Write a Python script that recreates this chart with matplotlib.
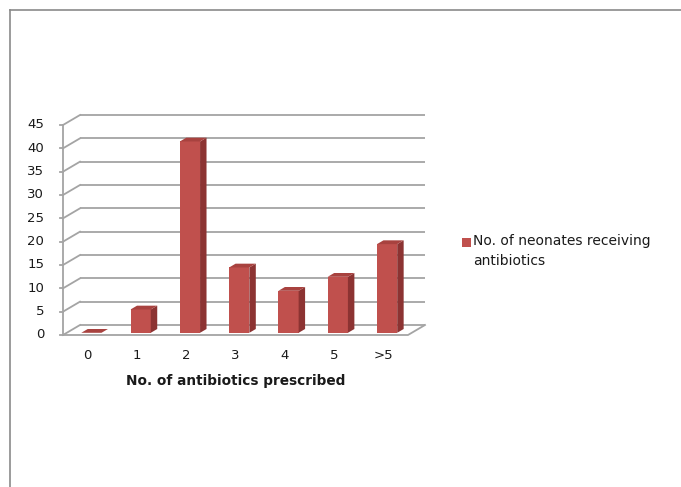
import matplotlib
matplotlib.use("Agg")
import matplotlib.pyplot as plt
from matplotlib.patches import Polygon, Rectangle
from matplotlib.lines import Line2D

# Data
categories = ["0", "1", "2", "3", "4", "5", ">5"]
neonates = [0, 5, 41, 14, 9, 12, 19]
y_ticks = [0, 5, 10, 15, 20, 25, 30, 35, 40, 45]
series_label = "No. of neonates receiving\nantibiotics"
x_title = "No. of antibiotics prescribed"

# Styling
FRONT = "#C0504D"
SIDE = "#8C3332"
TOP = "#A8423F"
GRID = "#A4A4A4"
TEXT = "#1A1A1A"

W, H = 681, 487
fig = plt.figure(figsize=(W / 100, H / 100), dpi=100)
fig.patch.set_facecolor("white")

# outer frame (top and left edges)
fig.add_artist(Line2D([10 / W, 1], [1 - 10 / H, 1 - 10 / H], transform=fig.transFigure,
                      color="#8A8A8A", lw=1.2))
fig.add_artist(Line2D([10 / W, 10 / W], [0, 1 - 10 / H], transform=fig.transFigure,
                      color="#8A8A8A", lw=1.2))

left, right = 63 / W, 408 / W
bottom, top = 1 - 335 / H, 1 - 125 / H
ax = fig.add_axes([left, bottom, right - left, top - bottom])
n = len(categories)
ax.set_xlim(-0.5, n - 0.5)
ax.set_ylim(0, 45)
ax.axis("off")

# depth of the pseudo-3D box in data units
px_per_cat = (408 - 63) / n
px_per_val = (335 - 125) / 45
DX = 17 / px_per_cat
DY = 10 / px_per_val

x0, x1 = -0.5, n - 0.5

# back wall gridlines and left wall diagonals
for t in y_ticks:
    ax.plot([x0 + DX, x1 + DX], [t + DY, t + DY], color=GRID, lw=1.3,
            clip_on=False, solid_capstyle="butt", zorder=1)
    ax.plot([x0, x0 + DX], [t, t + DY], color=GRID, lw=1.3, clip_on=False, zorder=1)
    ax.plot([x0 - 0.06, x0], [t, t], color=GRID, lw=1.3, clip_on=False, zorder=1)
    ax.text(x0 - 0.38, t, str(t), ha="right", va="center", fontsize=9.5,
            color=TEXT, clip_on=False)

# front axis line
ax.plot([x0, x0], [0, 45], color=GRID, lw=1.3, clip_on=False, zorder=1)
# floor outline
ax.plot([x0, x1, x1 + DX], [0, 0, DY], color=GRID, lw=1.3, clip_on=False, zorder=1)

# bars
w = 0.41
f, b = 0.22, 0.6
for i, v in enumerate(neonates):
    xl = i - w / 2
    xr = i + w / 2
    fx, fy = f * DX, f * DY
    bx, by = b * DX, b * DY
    if v > 0:
        ax.add_patch(Rectangle((xl + fx, fy), w, v, facecolor=FRONT,
                               edgecolor="none", zorder=3, clip_on=False))
        ax.add_patch(Polygon([(xr + fx, fy), (xr + bx, by), (xr + bx, v + by),
                              (xr + fx, v + fy)], closed=True, facecolor=SIDE,
                             edgecolor="none", zorder=3, clip_on=False))
    ax.add_patch(Polygon([(xl + fx, v + fy), (xr + fx, v + fy), (xr + bx, v + by),
                          (xl + bx, v + by)], closed=True, facecolor=TOP,
                         edgecolor="none", zorder=4, clip_on=False))

# category labels and axis title
for i, c in enumerate(categories):
    ax.text(i, -4.4, c, ha="center", va="center", fontsize=9.5, color=TEXT,
            clip_on=False)
ax.text((x0 + x1) / 2 + 0.0, -9.8, x_title, ha="center", va="center",
        fontsize=9.8, fontweight="bold", color=TEXT, clip_on=False)

# legend: swatch and two-line label
fig.add_artist(Rectangle((462 / W, 1 - 247 / H), 9 / W, 9 / H,
                         transform=fig.transFigure, facecolor=FRONT, edgecolor="none"))
fig.text(473 / W, 1 - 234 / H, series_label, ha="left", va="top", fontsize=10,
         color=TEXT, linespacing=1.55)

fig.savefig("out.png", dpi=100, facecolor="white")
